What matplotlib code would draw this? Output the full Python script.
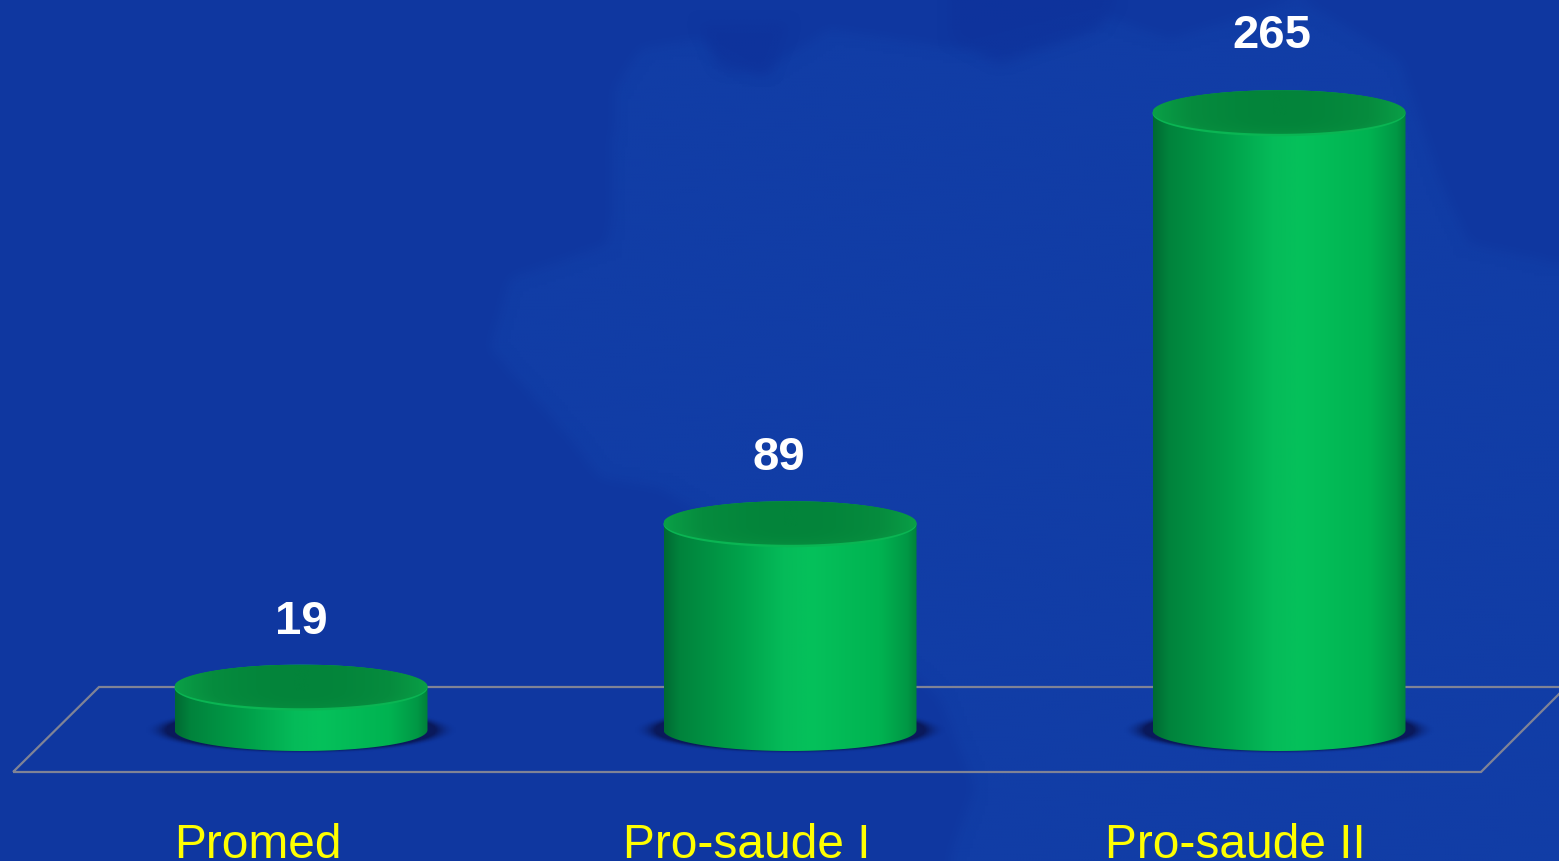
import numpy as np
import matplotlib
matplotlib.use("Agg")
import matplotlib.pyplot as plt
from matplotlib.colors import LinearSegmentedColormap, to_rgb
from matplotlib.path import Path
from matplotlib.patches import Polygon, PathPatch

W, H = 1559, 862

categories = ["Promed", "Pro-saude I", "Pro-saude II"]
values = [19, 89, 265]
value_dx = [0, -11, -7]
value_dy = [55, 55, 66]

BG = "#0f37a0"
MAP_BLUE = "#113da6"
DARK_BLUE = "#0e339c"

plt.rcParams["font.family"] = ["Liberation Sans", "DejaVu Sans"]

fig = plt.figure(figsize=(W / 100, H / 100), dpi=100, facecolor=BG)
ax = fig.add_axes([0, 0, 1, 1])

# scale: x=0 at 301px, 489px per bar; y=0 at 733px, 2.335px per unit
xs = 489.0
ys = 2.335
y0 = 733
ax.axis("off")


def px(x, y):
    # picture pixels to axes fraction, for the floor
    return (x / W, 1 - y / H)


def blurred(mask, n):
    kernel = np.ones(n) / n
    for _ in range(2):
        mask = np.apply_along_axis(lambda m: np.convolve(np.pad(m, n, mode="edge"), kernel, mode="same")[n:-n], 0, mask)
        mask = np.apply_along_axis(lambda m: np.convolve(np.pad(m, n, mode="edge"), kernel, mode="same")[n:-n], 1, mask)
    return mask


# faint map behind the chart, soft edged
map_outline = [(490, 350), (510, 280), (610, 245), (615, 90), (640, 50), (700, 40),
               (760, 75), (830, 30), (960, 50), (1100, 15), (1170, 40), (1300, 0),
               (1400, 60), (1440, 180), (1470, 245), (1559, 265), (1600, 265), (1600, 900),
               (950, 900), (950, 862), (975, 790), (940, 700), (780, 560), (660, 490),
               (600, 480), (570, 440)]
dark_patches = [[(950, -20), (1130, -20), (1100, 30), (1000, 65), (950, 40)],
                [(700, 25), (790, 25), (770, 75), (720, 70)]]
gx, gy = np.meshgrid(np.arange(0, W, 3) + 1.5, np.arange(0, H, 3) + 1.5)
grid = np.column_stack([gx.ravel(), gy.ravel()])


def backdrop(outline, color, alpha):
    inside = Path(outline).contains_points(grid).reshape(gx.shape).astype(float)
    rgba = np.zeros(gx.shape + (4,))
    rgba[..., :3] = to_rgb(color)
    rgba[..., 3] = blurred(inside, 5) * alpha
    ax.imshow(rgba, extent=[0, 1, 0, 1], transform=ax.transAxes, aspect="auto",
              interpolation="bilinear", zorder=1)


backdrop(map_outline, MAP_BLUE, 1.0)
for patch in dark_patches:
    backdrop(patch, DARK_BLUE, 0.8)

# floor
floor = [(13, 773), (1481, 773), (1566, 688), (99, 688)]
ax.add_patch(Polygon([px(*p) for p in floor], closed=True, transform=ax.transAxes,
                     facecolor="none", edgecolor="#7f8396", lw=1.6, zorder=2))

body_cmap = LinearSegmentedColormap.from_list("body", [
    (0.0, "#006a33"), (0.06, "#00833c"), (0.28, "#009f49"), (0.47, "#05bb59"),
    (0.58, "#05c15b"), (0.85, "#00b351"), (0.96, "#009845"), (1.0, "#00803a")])
top_cmap = LinearSegmentedColormap.from_list("top", [
    (0.0, "#03843a"), (0.5, "#068c3e"), (1.0, "#0aa047")])
shadow_cmap = LinearSegmentedColormap.from_list("shadow", [
    (0.0, (0.04, 0.10, 0.36, 1.0)), (0.87, (0.04, 0.10, 0.36, 1.0)), (1.0, (0.05, 0.2, 0.6, 0.0))])

rx = 126.5 / xs
ry = 23 / ys
ry_bottom = 21 / ys
shift = 2 / ys
t = np.linspace(0, np.pi, 90)

for i, v in enumerate(values):
    # shadow on the floor
    sx, sy = 156 / xs, 24 / ys
    u, w = np.meshgrid(np.linspace(-1, 1, 200), np.linspace(-1, 1, 80))
    r = np.clip(np.hypot(u, w), 0, 1)
    ax.imshow(shadow_cmap(r), extent=[i - sx, i + sx, shift - sy, shift + sy], aspect="auto", zorder=3)

    # body: side walls plus bottom curve, filled with a left to right gradient
    pts = [(i - rx, v)] + [(i - rx * np.cos(a), shift - ry_bottom * np.sin(a)) for a in t] + [(i + rx, v), (i - rx, v)]
    clip = PathPatch(Path(pts), transform=ax.transData, facecolor="none", edgecolor="none")
    ax.add_patch(clip)
    im = ax.imshow(np.linspace(0, 1, 256).reshape(1, -1), cmap=body_cmap, vmin=0, vmax=1,
                   extent=[i - rx, i + rx, -ry, v], aspect="auto", zorder=4)
    im.set_clip_path(clip)

    # top disc, darker in the middle with a lighter front rim
    a = np.linspace(0, 2 * np.pi, 180)
    rim = Polygon([(i + rx * np.cos(q), v + ry * np.sin(q)) for q in a], closed=True,
                  facecolor="#0ab553", edgecolor="none", zorder=5)
    ax.add_patch(rim)
    inner_h = ry - 1.2 / ys
    inner = [(i + rx * np.cos(q), v + 1.2 / ys + inner_h * np.sin(q)) for q in a]
    clip2 = Polygon(inner, closed=True, transform=ax.transData, facecolor="none", edgecolor="none")
    ax.add_patch(clip2)
    u, w = np.meshgrid(np.linspace(-1, 1, 300), np.linspace(1, -1, 80))
    r = np.clip(u ** 2 + np.clip(-w, 0, 1) ** 3 * 0.6, 0, 1)
    im2 = ax.imshow(r, cmap=top_cmap, vmin=0, vmax=1,
                    extent=[i - rx, i + rx, v - ry, v + ry], aspect="auto", zorder=6)
    im2.set_clip_path(clip2)

    ax.text(i + value_dx[i] / xs, v + value_dy[i] / ys, str(v), color="white", fontsize=34,
            fontweight="bold", ha="center", va="baseline", zorder=7)

    ax.text(i - 43.5 / xs, -125 / ys, categories[i], color="#ffff00", fontsize=34.5,
            ha="center", va="baseline", zorder=7)

# imshow resets the limits
ax.set_xlim(-301 / xs, (W - 301) / xs)
ax.set_ylim(-(H - y0) / ys, y0 / ys)

fig.savefig("out.png", dpi=100, facecolor=BG)
